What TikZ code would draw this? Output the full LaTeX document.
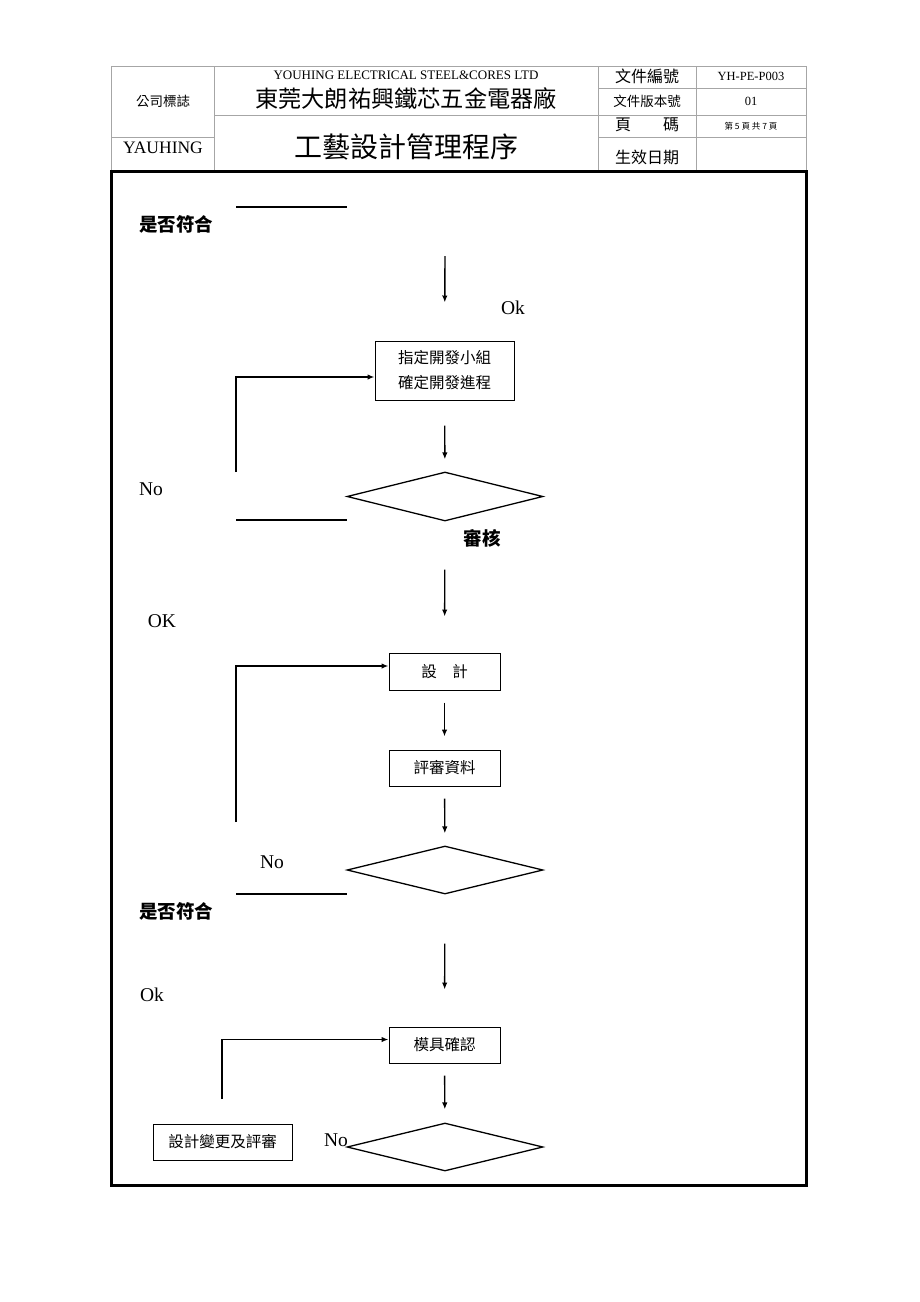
\documentclass[tikz,border=0pt]{standalone}
\usepackage{fontspec}
\setmainfont{Liberation Serif}
\newfontfamily\cjk{Noto Sans CJK TC}
\usetikzlibrary{arrows.meta,shapes.geometric,positioning}

\begin{document}
\begin{tikzpicture}[x=1pt,y=-1pt,
    box/.style={draw,line width=1pt,inner sep=0pt,align=center,
        font=\cjk\fontsize{15.5}{25}\selectfont},
    decision/.style={draw,diamond,line width=1.3pt,inner sep=0pt,
        minimum width=196pt,minimum height=49pt},
    flow/.style={line width=1.4pt,-{Latex[length=7pt,width=5.5pt]}},
    plain/.style={line width=1.3pt},
    cell/.style={draw=gray!70,line width=0.8pt},
    tag/.style={font=\fontsize{19.5}{22}\selectfont},
    cjktag/.style={font=\cjk\bfseries\fontsize{18.5}{21}\selectfont}]
    \useasboundingbox (0,0) rectangle (920,1302);

    % header table
    \draw[cell] (111,66) rectangle (806,170);
    \draw[cell] (214,66) -- (214,170);
    \draw[cell] (598,66) -- (598,170);
    \draw[cell] (696,66) -- (696,170);
    \draw[cell] (598,88) -- (806,88);
    \draw[cell] (214,115) -- (806,115);
    \draw[cell] (111,137) -- (214,137);
    \draw[cell] (598,137) -- (806,137);
    \node[font=\cjk\fontsize{13.5}{16}\selectfont] (logo) at (163,101) {公司標誌};
    \node[font=\fontsize{17.5}{20}\selectfont] (brand) at (163,148) {YAUHING};
    \node[font=\fontsize{13}{15}\selectfont] (company) at (406,75) {YOUHING ELECTRICAL STEEL\&CORES LTD};
    \node[font=\cjk\fontsize{23.2}{27}\selectfont] (factory) at (406,99) {東莞大朗祐興鐵芯五金電器廠};
    \node[font=\cjk\fontsize{28}{32}\selectfont] (title) at (406,147) {工藝設計管理程序};
    \node[font=\cjk\fontsize{16}{18}\selectfont] (docno) at (647,76) {文件編號};
    \node[font=\cjk\fontsize{13.5}{16}\selectfont] (version) at (647,101) {文件版本號};
    \node[font=\cjk\fontsize{16}{18}\selectfont] (page) at (647,125) {頁　　碼};
    \node[font=\cjk\fontsize{16}{18}\selectfont] (date) at (647,157) {生效日期};
    \node[font=\fontsize{12.5}{15}\selectfont] (docnoval) at (751,76) {YH-PE-P003};
    \node[font=\fontsize{12.5}{15}\selectfont] (versionval) at (751,101) {01};
    \node[font=\cjk\fontsize{8.5}{10}\selectfont] (pageval) at (751,126) {第 5 頁 共 7 頁};

    % page frame
    \draw[line width=3pt] (111,171.5) rectangle (806,1185);

    % flow nodes
    \node[box,minimum width=139pt,minimum height=59pt] (plan) at (444.5,370.5) {指定開發小組\\確定開發進程};
    \node[decision] (check) at (445,496.5) {};
    \node[box,minimum width=111pt,minimum height=37pt] (design) at (444.5,671.5) {設　計};
    \node[box,minimum width=111pt,minimum height=36pt] (review) at (444.5,768) {評審資料};
    \node[decision,minimum height=48pt] (match) at (445,870) {};
    \node[box,minimum width=111pt,minimum height=36pt] (mould) at (444.5,1045) {模具確認};
    \node[decision,minimum height=48pt] (confirm) at (445,1147) {};
    \node[box,minimum width=139pt,minimum height=36pt] (change) at (222.5,1142) {設計變更及評審};

    % labels
    \node[cjktag] (q1) at (176,224) {是否符合};
    \node[tag] (ok1) at (513,308) {Ok};
    \node[tag] (no1) at (151,489) {No};
    \node[cjktag] (audit) at (482,538) {審核};
    \node[tag] (ok2) at (162,621) {OK};
    \node[tag] (no2) at (272,862) {No};
    \node[cjktag] (q2) at (176,911) {是否符合};
    \node[tag] (ok3) at (152,995) {Ok};
    \node[tag] (no3) at (336,1140) {No};

    % loose ends
    \coordinate (in0) at (445,256);
    \coordinate (back1) at (236,472);
    \coordinate (back2) at (236,822);
    \coordinate (back3) at (222,1099);
    \coordinate (cutA) at (236,207);
    \coordinate (cutB) at (347,207);
    \coordinate (cutC) at (236,520);
    \coordinate (cutD) at (347,520);
    \coordinate (cutE) at (236,894);
    \coordinate (cutF) at (347,894);

    % connectors
    \draw[flow,shorten >=38pt] (in0) -- (plan);
    \draw[flow,shorten <=25pt,shorten >=12pt] (plan) -- (check);
    \draw[flow,shorten <=48pt,shorten >=36pt] (check) -- (design);
    \draw[flow,shorten <=12pt,shorten >=13pt] (design) -- (review);
    \draw[flow,shorten <=12pt,shorten >=12pt] (review) -- (match);
    \draw[flow,shorten <=49pt,shorten >=37pt] (match) -- (mould);
    \draw[flow,shorten <=12pt,shorten >=13pt] (mould) -- (confirm);
    \draw[flow] (back1) |- ([yshift=-6.5pt]plan.west);
    \draw[flow] (back2) |- ([yshift=5.5pt]design.west);
    \draw[flow] (back3) |- ([yshift=5.5pt]mould.west);
    \draw[plain] (cutA) -- (cutB);
    \draw[plain] (cutC) -- (cutD);
    \draw[plain] (cutE) -- (cutF);
\end{tikzpicture}
\end{document}
